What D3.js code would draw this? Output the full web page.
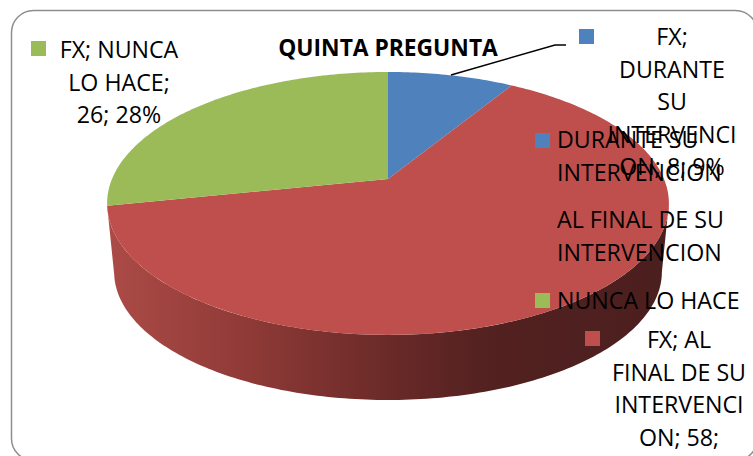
<!DOCTYPE html>
<html><head><meta charset="utf-8">
<script src="https://cdn.jsdelivr.net/npm/d3@7/dist/d3.min.js"></script>
<style>html,body{margin:0;padding:0;background:#fff;overflow:hidden}svg{display:block}text{font-family:"Open Sans",sans-serif;fill:#000}</style>
</head><body><svg id="c" width="753" height="456"></svg>
<script>
const categories = ["DURANTE SU INTERVENCION", "AL FINAL DE SU INTERVENCION", "NUNCA LO HACE"];
const values = [8, 58, 26];
const colors = ["#4F81BD", "#BE4F4C", "#9BBB59"];
const title = "QUINTA PREGUNTA";
const legendLines = [["DURANTE SU", "INTERVENCION"], ["AL FINAL DE SU", "INTERVENCION"], ["NUNCA LO HACE"]];
const labelLines = [["FX;", "DURANTE", "SU", "INTERVENCI", "ON; 8; 9%"], ["FX; AL", "FINAL DE SU", "INTERVENCI", "ON; 58;"], ["FX; NUNCA", "LO HACE;", "26; 28%"]];

const FS = 23.2;
const svg = d3.select("#c");
const defs = svg.append("defs");
const grad = defs.append("linearGradient").attr("id", "wall").attr("gradientUnits", "userSpaceOnUse")
  .attr("x1", 107).attr("x2", 670).attr("y1", 0).attr("y2", 0);
[[0, "#AC4B47"], [.25, "#8F3A37"], [.5, "#6A2A28"], [.68, "#522120"], [1, "#4B1F1E"]].forEach(s =>
  grad.append("stop").attr("offset", s[0]).attr("stop-color", s[1]));

svg.append("rect").attr("x", 11.5).attr("y", 10.5).attr("width", 746).attr("height", 450).attr("rx", 22)
  .attr("fill", "#fff").attr("stroke", "#8E8E8E").attr("stroke-width", 1.5);

// Perspective projection of a tilted disc: angle measured clockwise from the top
const k = 0.186;
const project = (a, f, y0) => {
  const u = Math.sin(a), v = -Math.cos(a), s = 1 / (1 - k * v);
  return [388 + 276 * f * u * s, y0 + 126.9 * f * v * s];
};
const line = d3.line();
const arcPts = (a0, a1, f, y0) => {
  const n = Math.max(2, Math.ceil(Math.abs(a1 - a0) * 60));
  return d3.range(n + 1).map(i => project(a0 + (a1 - a0) * i / n, f, y0));
};

const arcs = d3.pie().sort(null).startAngle(0).endAngle(2 * Math.PI)(values);

// Side wall of the front slice, between the silhouette points of the disc
const silR = Math.PI - Math.acos(k), silL = Math.PI + Math.acos(k);
const red = arcs[1];
const wA = Math.max(red.startAngle, silR), wB = Math.min(red.endAngle, silL);
svg.append("path")
  .attr("d", line(arcPts(wA, wB, 1, 179).concat(arcPts(wB, wA, 0.975, 248))) + "Z")
  .attr("fill", "url(#wall)");

// Top face
svg.append("g").selectAll("path").data(arcs).join("path")
  .attr("d", d => line([[388, 179]].concat(arcPts(d.startAngle, d.endAngle, 1, 179))) + "Z")
  .attr("fill", (d, i) => colors[i]);

// Leader line
svg.append("path").attr("d", line([[451, 75], [555, 45], [566, 45]]))
  .attr("fill", "none").attr("stroke", "#000").attr("stroke-width", 1.4);

svg.append("text").attr("x", 388).attr("y", 56).attr("text-anchor", "middle")
  .attr("font-size", 22.8).attr("font-weight", 700).text(title);

// Legend
const legendPos = [[535, 133, 148], [535, 213, 228], [535, 293, 309]];
legendLines.forEach((ls, i) => {
  const p = legendPos[i];
  svg.append("rect").attr("x", p[0]).attr("y", p[1]).attr("width", 15).attr("height", 15).attr("fill", colors[i]);
  ls.forEach((t, j) => svg.append("text").attr("x", 557).attr("y", p[2] + j * 33).attr("font-size", FS).text(t));
});

// Data labels
const labelPos = [
  {sx: 579, sy: 29, cx: 672, y: 45},
  {sx: 585, sy: 331, cx: 679, y: 348},
  {sx: 31, sy: 41, cx: 119, y: 58}
];
labelLines.forEach((ls, i) => {
  const p = labelPos[i];
  svg.append("rect").attr("x", p.sx).attr("y", p.sy).attr("width", 15).attr("height", 15).attr("fill", colors[i]);
  ls.forEach((t, j) => svg.append("text").attr("x", p.cx).attr("y", p.y + j * 32.5)
    .attr("text-anchor", "middle").attr("font-size", FS).text(t));
});
</script></body></html>
